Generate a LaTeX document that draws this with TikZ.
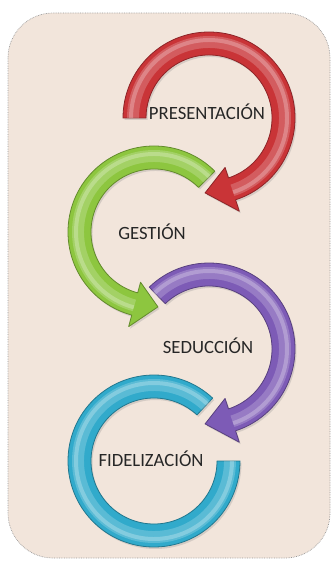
\documentclass[tikz,border=0pt]{standalone}
\usepackage{fontspec}
\setmainfont{Carlito}
\usetikzlibrary{shadows}
\definecolor{cyink}{HTML}{262626}
\definecolor{cypanel}{HTML}{F2E5DB}
\definecolor{cyred}{HTML}{C93437}
\definecolor{cygreen}{HTML}{8DC63F}
\definecolor{cypurple}{HTML}{7D5BB6}
\definecolor{cycyan}{HTML}{31AACB}
\tikzset{
  cy panel/.style={draw=gray!80, densely dotted, line width=0.7pt, fill=cypanel,
    rounded corners=45bp},
  cy label/.style={font=\fontsize{18.7bp}{22bp}\selectfont, text=cyink,
    anchor=base, inner sep=0pt},
  cy band/.style={line width=0.8pt, line join=round,
    drop shadow={opacity=0.25, shadow xshift=1.5pt, shadow yshift=-2pt}},
  cy shine/.style={line width=12pt, opacity=0.2, line cap=butt},
  cy gloss/.style={line width=4pt, opacity=0.25, line cap=butt}
}

\begin{document}
\begin{tikzpicture}[x=1bp, y=1bp]
  \useasboundingbox (0,0) rectangle (332,-561);
  \draw[cy panel] (8,-13) rectangle (330,-558);
  % ring centres
  \coordinate (pres) at (209,-118);
  \coordinate (gest) at (154,-232);
  \coordinate (sedu) at (209,-349);
  \coordinate (fide) at (154,-461);
  % arrows: centre/start/base/tip/colour
  \foreach \c/\s/\b/\t/\col in {pres/180/-72/-93/cyred, gest/45/255/273/cygreen,
      sedu/134/-72/-93/cypurple}{
    \filldraw[cy band, fill=\col, draw=\col!70!black, shift={(\c)}]
      (\s:86) arc[start angle=\s, end angle=\b, radius=86] -- (\b:98) -- (\t:75)
      -- (\b:52) -- (\b:63) arc[start angle=\b, end angle=\s, radius=63] -- cycle;
    \draw[cy shine, white, shift={(\c)}]
      (\s:76) arc[start angle=\s, end angle=\b, radius=76];
    \draw[cy gloss, white, shift={(\c)}]
      (\s:78) arc[start angle=\s, end angle=\b, radius=78];
  }
  % last ring, no head
  \filldraw[cy band, fill=cycyan, draw=cycyan!70!black, shift={(fide)}]
    (47:86) arc[start angle=47, end angle=360, radius=86] -- (0:63)
    arc[start angle=360, end angle=47, radius=63] -- cycle;
  \draw[cy shine, white, shift={(fide)}]
    (47:76) arc[start angle=47, end angle=360, radius=76];
  \draw[cy gloss, white, shift={(fide)}]
    (47:78) arc[start angle=47, end angle=360, radius=78];
  % labels
  \node[cy label] (presl) at (207,-120) {PRESENTACIÓN};
  \node[cy label] (gestl) at (152,-239.5) {GESTIÓN};
  \node[cy label] (sedul) at (208,-353) {SEDUCCIÓN};
  \node[cy label] (fidel) at (151,-466.5) {FIDELIZACIÓN};
\end{tikzpicture}
\end{document}
